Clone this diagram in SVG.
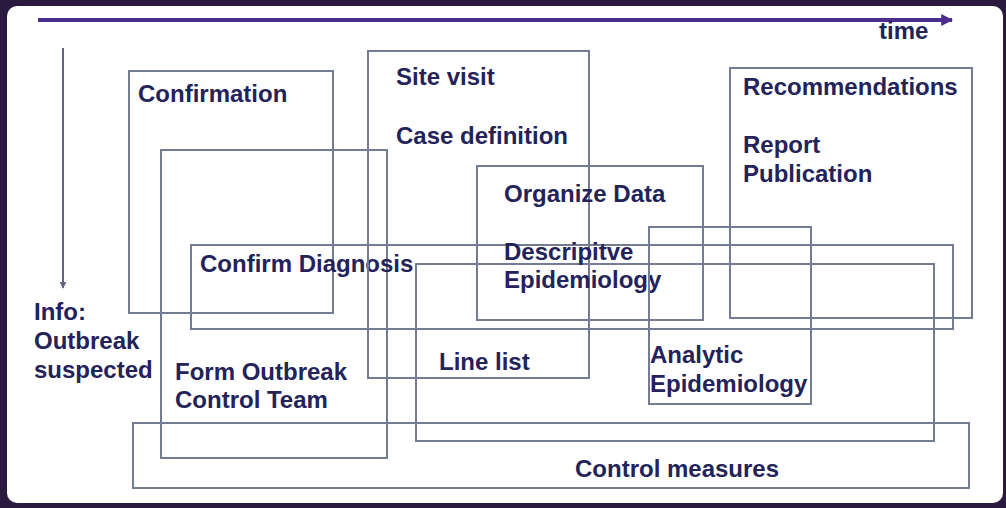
<svg xmlns="http://www.w3.org/2000/svg" width="1006" height="508" viewBox="0 0 1006 508">
  <style>
    .frame { fill: #2b1a3f; }
    .sheet { fill: #ffffff; }
    .box { fill: none; stroke: #737c94; stroke-width: 2; }
    .lbl { font-family: "Liberation Sans", Arial, sans-serif; font-weight: bold; font-size: 24px; fill: #23235a; }
    .timeline { stroke: #4b2d8c; stroke-width: 4; fill: none; }
    .flow { stroke: #5e6780; stroke-width: 2; fill: none; }
  </style>
  <defs>
    <marker id="headTime" viewBox="0 0 10 10" refX="9" refY="5" markerWidth="3" markerHeight="3" orient="auto" markerUnits="strokeWidth">
      <path d="M0,0 L10,5 L0,10 z" fill="#4b2d8c"/>
    </marker>
    <marker id="headDown" viewBox="0 0 10 10" refX="9" refY="5" markerWidth="3.5" markerHeight="3.5" orient="auto" markerUnits="strokeWidth">
      <path d="M0,0 L10,5 L0,10 z" fill="#5e6780"/>
    </marker>
  </defs>

  <!-- slide frame -->
  <rect class="frame" x="0" y="0" width="1006" height="508"/>
  <rect class="sheet" x="7" y="6" width="996" height="497" rx="10"/>

  <!-- axes -->
  <g id="connectors">
    <line class="timeline" x1="38" y1="20" x2="952" y2="20" marker-end="url(#headTime)"/>
    <line class="flow" x1="63" y1="48" x2="63" y2="288" marker-end="url(#headDown)"/>
  </g>

  <g id="time-label">
    <text class="lbl" x="879" y="39">time</text>
  </g>

  <g id="info">
    <text class="lbl" x="34" y="320">Info:</text>
    <text class="lbl" x="34" y="349">Outbreak</text>
    <text class="lbl" x="34" y="378">suspected</text>
  </g>

  <g id="confirmation">
    <rect class="box" x="129" y="71" width="204" height="242"/>
    <text class="lbl" x="138" y="102">Confirmation</text>
  </g>

  <g id="outbreak-team">
    <rect class="box" x="161" y="150" width="226" height="308"/>
    <text class="lbl" x="175" y="380">Form Outbreak</text>
    <text class="lbl" x="175" y="408">Control Team</text>
  </g>

  <g id="confirm-diagnosis">
    <rect class="box" x="191" y="245" width="762" height="84"/>
    <text class="lbl" x="200" y="272">Confirm Diagnosis</text>
  </g>

  <g id="site-visit">
    <rect class="box" x="368" y="51" width="221" height="327"/>
    <text class="lbl" x="396" y="85">Site visit</text>
    <text class="lbl" x="396" y="144">Case definition</text>
  </g>

  <g id="line-list">
    <rect class="box" x="416" y="264" width="518" height="177"/>
    <text class="lbl" x="439" y="370">Line list</text>
  </g>

  <g id="organize-data">
    <rect class="box" x="477" y="166" width="226" height="154"/>
    <text class="lbl" x="504" y="202">Organize Data</text>
    <text class="lbl" x="504" y="260">Descripitve</text>
    <text class="lbl" x="504" y="288">Epidemiology</text>
  </g>

  <g id="analytic">
    <rect class="box" x="649" y="227" width="162" height="177"/>
    <text class="lbl" x="650" y="363">Analytic</text>
    <text class="lbl" x="650" y="392">Epidemiology</text>
  </g>

  <g id="recommendations">
    <rect class="box" x="730" y="68" width="242" height="250"/>
    <text class="lbl" x="743" y="95">Recommendations</text>
    <text class="lbl" x="743" y="153">Report</text>
    <text class="lbl" x="743" y="182">Publication</text>
  </g>

  <g id="control-measures">
    <rect class="box" x="133" y="423" width="836" height="65"/>
    <text class="lbl" x="575" y="477">Control measures</text>
  </g>
</svg>
